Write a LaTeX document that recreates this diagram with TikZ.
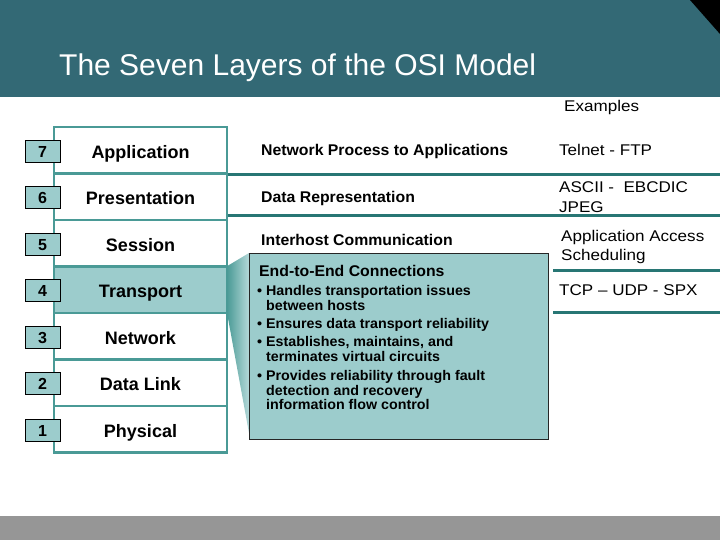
\documentclass[tikz,border=0pt]{standalone}
\usepackage{fontspec}
\setmainfont{Liberation Sans}
\newfontfamily\exfont[FakeStretch=1.1]{Liberation Sans}
\newfontfamily\descfont[FakeStretch=1.02]{Liberation Sans}
\definecolor{hdr}{RGB}{51,105,117}
\definecolor{stk}{RGB}{74,154,150}
\definecolor{rulec}{RGB}{40,118,116}
\definecolor{lt}{RGB}{156,204,204}
\definecolor{band}{RGB}{150,150,150}
\begin{document}
\begin{tikzpicture}[x=1pt,y=-1pt,
  layer/.style={draw=stk, line width=2.5pt, minimum width=173pt, minimum height=46.5pt,
    inner sep=0pt, text height=16pt, text depth=0pt, font=\bfseries\fontsize{18}{20}\selectfont},
  numbox/.style={draw=black, fill=lt, line width=0.8pt, minimum width=35pt, minimum height=22pt,
    inner sep=0pt, text height=12pt, text depth=0pt, font=\bfseries\fontsize{16}{18}\selectfont},
  desc/.style={anchor=base west, inner sep=0pt, font=\descfont\bfseries\fontsize{15.5}{18}\selectfont},
  bul/.style={anchor=base west, inner sep=0pt, font=\descfont\bfseries\fontsize{14}{16}\selectfont},
  ex/.style={anchor=base west, inner sep=0pt, font=\exfont\fontsize{15.5}{18}\selectfont},
  divider/.style={draw=rulec, line width=3pt}]
\useasboundingbox (0,0) rectangle (720,540);
% header and footer bands
\fill[hdr] (0,0) rectangle (720,97);
\fill[black] (690,0) -- (720,0) -- (720,34) -- cycle;
\node[anchor=base west, inner sep=0pt, text=white, font=\fontsize{30}{36}\selectfont] (title) at (59,76) {The Seven Layers of the OSI Model};
\fill[band] (0,516) rectangle (720,540);

% callout geometry (coordinates)
\coordinate (cnw) at (249,253);
\coordinate (cwb) at (249,433);

% wedge from transport layer to callout
\coordinate (wt) at (227,266.25);
\coordinate (wbm) at (227,312.75);
\shade[left color=stk, right color=lt!75!white] (wt) -- (cnw) -- (cwb) -- (wbm) -- cycle;

% layer stack
\node[layer] (L7) at (140.5,150.25) {Application};
\node[layer] (L6) at (140.5,196.75) {Presentation};
\node[layer] (L5) at (140.5,243.25) {Session};
\node[layer, fill=lt] (L4) at (140.5,289.75) {Transport};
\node[layer] (L3) at (140.5,336.25) {Network};
\node[layer] (L2) at (140.5,382.75) {Data Link};
\node[layer] (L1) at (140.5,429.25) {Physical};

% number boxes
\node[numbox] (N7) at (42.5,151.25) {7};
\node[numbox] (N6) at (42.5,197.75) {6};
\node[numbox] (N5) at (42.5,244.25) {5};
\node[numbox] (N4) at (42.5,290.75) {4};
\node[numbox] (N3) at (42.5,337.25) {3};
\node[numbox] (N2) at (42.5,383.75) {2};
\node[numbox] (N1) at (42.5,430.25) {1};

% dividers on the right
\draw[divider] (228,175) -- (720,175);
\draw[divider] (228,216) -- (720,216);
\draw[divider] (553,270) -- (720,270);
\draw[divider] (553,312) -- (720,312);

% descriptions
\node[desc] (d7) at (261,156) {Network Process to Applications};
\node[desc] (d6) at (261,202.5) {Data Representation};
\node[desc] (d5) at (261,245.5) {Interhost Communication};

% callout box
\node[draw=black!85, fill=lt, line width=0.8pt, minimum width=299pt, minimum height=186pt,
  anchor=north west, inner sep=0pt] (callout) at (cnw) {};
\node[anchor=base west, inner sep=0pt, font=\descfont\bfseries\fontsize{15.5}{18}\selectfont] (ch) at (259,276.5) {End-to-End Connections};
\node[bul] (b1a) at (257,295) {\textbullet\ Handles transportation issues};
\node[bul] (b1b) at (266,310) {between hosts};
\node[bul] (b2a) at (257,328) {\textbullet\ Ensures data transport reliability};
\node[bul] (b3a) at (257,346.5) {\textbullet\ Establishes, maintains, and};
\node[bul] (b3b) at (266,361.5) {terminates virtual circuits};
\node[bul] (b4a) at (257,380) {\textbullet\ Provides reliability through fault};
\node[bul] (b4b) at (266,395) {detection and recovery};
\node[bul] (b4c) at (266,409.5) {information flow control};

% examples column
\node[ex] (exh) at (564,112) {Examples};
\node[ex] (e7) at (559,156) {Telnet - FTP};
\node[ex] (e6a) at (559,193) {ASCII -\ \ EBCDIC};
\node[ex] (e6b) at (559,212) {JPEG};
\node[ex] (e5a) at (561,241.5) {Application Access};
\node[ex] (e5b) at (561,260) {Scheduling};
\node[ex] (e4) at (559,295) {TCP – UDP - SPX};
\end{tikzpicture}
\end{document}
